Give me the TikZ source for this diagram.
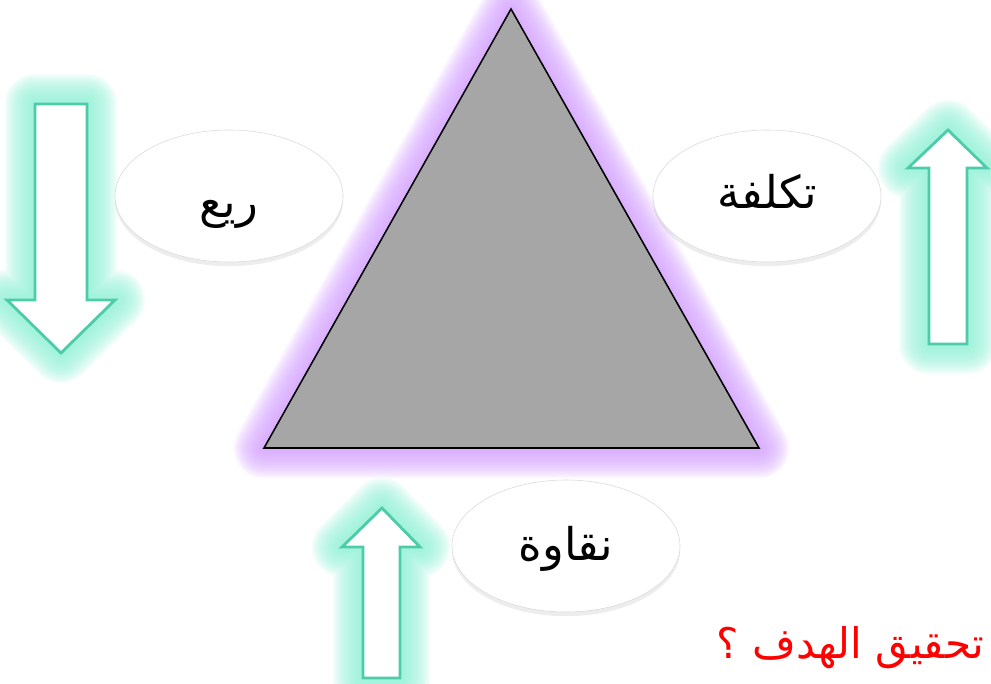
\documentclass[tikz,border=0pt]{standalone}
\usepackage{fontspec}
\usepackage{xcolor}
\usetikzlibrary{shapes.geometric,shadows}
\newfontfamily\arabicfont[Script=Arabic]{DejaVu Sans}
\TeXXeTstate=1
\definecolor{glow_purple}{RGB}{210,158,255}
\definecolor{glow_teal}{RGB}{140,240,212}
\definecolor{arrow_teal}{RGB}{78,204,170}
\definecolor{tri_gray}{RGB}{166,166,166}
\pgfdeclareradialshading{glossy}{\pgfpoint{0bp}{0bp}}{color(0bp)=(white); color(26bp)=(white); color(38bp)=(gray!10); color(46bp)=(gray!30); color(50bp)=(gray!75)}

% outlines of the shapes, in pixels of the slide
\def\triangleshape{(511,9) -- (759,448) -- (264,448) -- cycle}
\def\leftarrowshape{(35,104) -- (87,104) -- (87,300) -- (115,300) -- (61,353) -- (7,300) -- (35,300) -- cycle}
\def\rightarrowshape{(929,344) -- (967,344) -- (967,168) -- (987,168) -- (948,130) -- (908,168) -- (929,168) -- cycle}
\def\bottomarrowshape{(363,678) -- (400,678) -- (400,547) -- (420,547) -- (382,508) -- (342,547) -- (363,547) -- cycle}
% lowers a label inside its bubble
\newcommand\droplabel[2]{\raisebox{-#1}[\height][\depth]{\beginR #2\endR}}

\tikzset{
  bubble/.style={ellipse, shading=glossy, draw=gray!30, thin,
    minimum width=5.7cm, minimum height=3.3cm, inner sep=0pt,
    drop shadow={opacity=0.14, shadow xshift=0pt, shadow yshift=-3pt},
    font=\arabicfont\fontsize{32}{36}\selectfont},
  hollow arrow/.style={fill=white, draw=arrow_teal, line width=2pt, line join=miter}
}

\begin{document}
\begin{tikzpicture}[x=0.025cm, y=-0.025cm]
  \useasboundingbox (0,0) rectangle (991,683);
  % soft glow round the triangle and the arrows
  \foreach \w in {1,...,18}{
    \draw[glow_purple, opacity=0.09, line width=\w*2.4pt, line join=round] \triangleshape;
    \draw[glow_teal, opacity=0.09, line width=\w*2.4pt, line join=round] \leftarrowshape;
    \draw[glow_teal, opacity=0.09, line width=\w*2.4pt, line join=round] \rightarrowshape;
    \draw[glow_teal, opacity=0.09, line width=\w*2.4pt, line join=round] \bottomarrowshape;
  }
  % triangle
  \fill[glow_purple] \triangleshape;
  \draw[fill=tri_gray, draw=black, line width=1.1pt, line join=miter] \triangleshape;
  % arrows
  \draw[hollow arrow] \leftarrowshape;
  \draw[hollow arrow] \rightarrowshape;
  \draw[hollow arrow] \bottomarrowshape;
  % labels
  \node[bubble] (risk) at (229,196) {\droplabel{13pt}{ريع}};
  \node[bubble] (cost) at (767,196) {\droplabel{-3pt}{تكلفة}};
  \node[bubble] (purity) at (566,546) {\droplabel{2pt}{نقاوة}};
  \node[anchor=east, text=red, font=\arabicfont\fontsize{30}{36}\selectfont]
    (goal) at (989,648) {\beginR تحقيق الهدف ؟\endR};
\end{tikzpicture}
\end{document}
